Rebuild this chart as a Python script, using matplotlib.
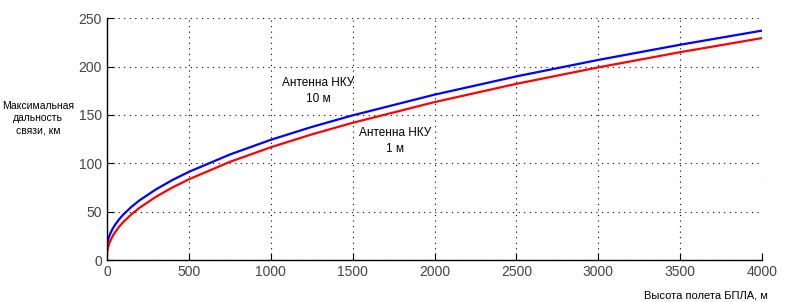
import matplotlib
matplotlib.use("Agg")
import matplotlib.pyplot as plt

# Flight altitude of UAV, m
heights = [0, 2, 5, 10, 20, 35, 50, 75, 100, 150, 200, 300, 400, 500, 750,
           1000, 1250, 1500, 2000, 2500, 3000, 3500, 4000]
# Max link range, km (ground antenna 10 m)
range_10m = [11, 16.3, 19.3, 22.6, 27.2, 32.4, 36.5, 42.2, 47.0, 55.0, 61.8,
             73.1, 82.7, 91.1, 109.0, 124.2, 137.5, 149.5, 170.9, 189.8,
             206.8, 222.5, 237.1]
# Max link range, km (ground antenna 1 m)
range_1m = [3.6, 8.6, 11.6, 14.9, 19.5, 24.7, 28.8, 34.5, 39.3, 47.3, 54.1,
            65.4, 75.0, 83.4, 101.4, 116.5, 129.8, 141.8, 163.2, 182.1,
            199.1, 214.8, 229.4]

xticks = [0, 500, 1000, 1500, 2000, 2500, 3000, 3500, 4000]
yticks = [0, 50, 100, 150, 200, 250]

plt.rcParams['font.family'] = ['Liberation Sans', 'DejaVu Sans']

fig = plt.figure(figsize=(7.98, 3.02), dpi=100)
ax = fig.add_axes([0.134, 0.139, 0.821, 0.801])

ax.plot(heights, range_10m, color='#0000ff', lw=1.6)
ax.plot(heights, range_1m, color='#ff0000', lw=1.6)

ax.set_xlim(0, 4000)
ax.set_ylim(0, 250)
ax.set_xticks(xticks)
ax.set_yticks(yticks)
ax.grid(True, linestyle=(0, (1, 4)), color='black', lw=0.8)
for s in ['top', 'right']:
    ax.spines[s].set_visible(False)
ax.spines['left'].set_linewidth(1.0)
ax.spines['bottom'].set_linewidth(1.0)
ax.tick_params(direction='in', length=5, labelsize=10, labelcolor='#444444')

ax.text(1289, 174.6, 'Антенна НКУ\n10 м', ha='center', va='center',
        fontsize=8.5, linespacing=1.5)
ax.text(1759, 123, 'Антенна НКУ\n1 м', ha='center', va='center',
        fontsize=8.5, linespacing=1.5)

fig.text(38 / 798, 1 - 118 / 302, 'Максимальная\nдальность\nсвязи, км',
         ha='center', va='center', fontsize=7.5, linespacing=1.3)
fig.text(768 / 798, 1 - 295 / 302, 'Высота полета БПЛА, м',
         ha='right', va='center', fontsize=8)

fig.savefig('out.png', dpi=100)
